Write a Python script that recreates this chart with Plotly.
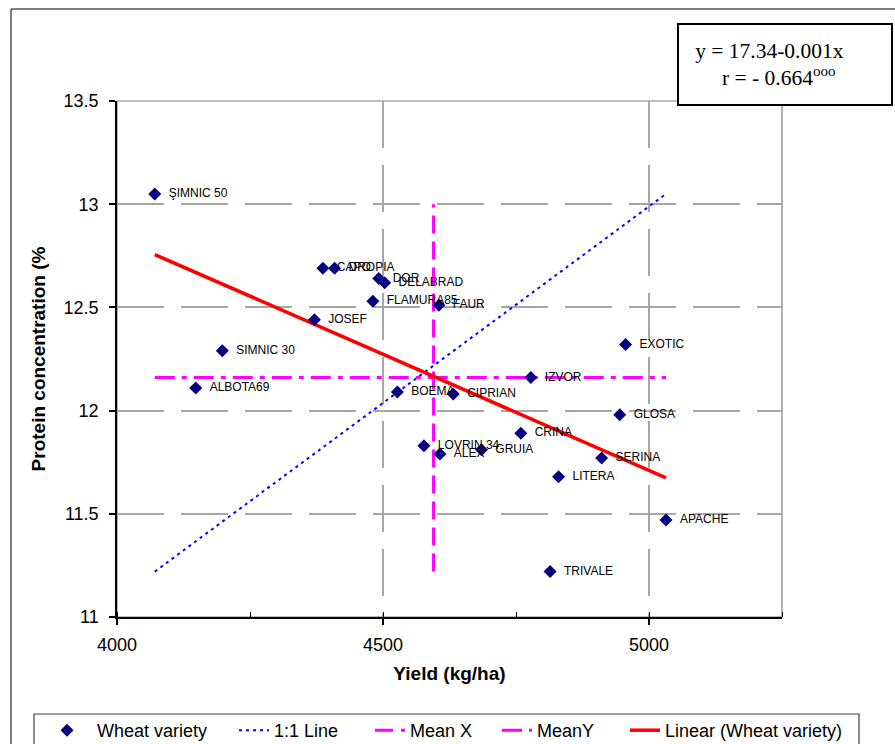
import plotly.graph_objects as go

# Wheat varieties: grain yield vs. protein concentration
varieties = ["ŞIMNIC 50", "CAPO", "DROPIA", "DOR", "DELABRAD", "FLAMURA85", "FAUR",
             "JOSEF", "SIMNIC 30", "ALBOTA69", "BOEMA", "CIPRIAN", "IZVOR", "LOVRIN 34",
             "ALEX", "GRUIA", "CRINA", "SERINA", "LITERA", "GLOSA", "EXOTIC", "APACHE",
             "TRIVALE"]
yield_kg_ha = [4071, 4387, 4409, 4492, 4503, 4481, 4605, 4371, 4198, 4148, 4527, 4632,
               4778, 4577, 4607, 4685, 4759, 4911, 4830, 4945, 4956, 5032, 4814]
protein_pct = [13.05, 12.69, 12.69, 12.64, 12.62, 12.53, 12.51, 12.44, 12.29, 12.11,
               12.09, 12.08, 12.16, 11.83, 11.79, 11.81, 11.89, 11.77, 11.68, 11.98,
               12.32, 11.47, 11.22]

# reference lines
mean_yield = 4595
mean_protein = 12.16
mean_x_span = [11.22, 13.0]
trend_intercept = 17.34
trend_slope = -0.001126
r_value = -0.664

x_ticks = [4000, 4500, 5000]
y_ticks = [11, 11.5, 12, 12.5, 13, 13.5]
y_tick_text = ["11", "11.5", "12", "12.5", "13", "13.5"]

# canvas and plot-area geometry (pixels)
W, H = 895, 744
L, R, T, B = 117, 113, 101, 127


def px_x(px):
    return (px - L) / (W - L - R)


def px_y(py):
    return (H - B - py) / (H - T - B)


FONT = "Liberation Sans, Arial, sans-serif"
SERIF = "Liberation Serif, Times New Roman, serif"

x_lo, x_hi = min(yield_kg_ha), max(yield_kg_ha)
y_lo, y_hi = min(protein_pct), max(protein_pct)

fig = go.Figure()

fig.add_trace(go.Scatter(
    x=[x_lo, x_hi], y=[y_lo, y_hi], mode="lines", name="1:1 Line", legend="legend2",
    line=dict(color="#0000FF", width=2, dash="3px,4px"),
))
fig.add_trace(go.Scatter(
    x=[mean_yield, mean_yield], y=mean_x_span, mode="lines", name="Mean X",
    legend="legend3", line=dict(color="#FF00FF", width=3, dash="18px,8px"),
))
fig.add_trace(go.Scatter(
    x=[x_lo, x_hi], y=[mean_protein, mean_protein], mode="lines", name="MeanY",
    legend="legend4", line=dict(color="#FF00FF", width=3, dash="20px,7px,5px,7px"),
))
fig.add_trace(go.Scatter(
    x=[x_lo, x_hi],
    y=[trend_intercept + trend_slope * x_lo, trend_intercept + trend_slope * x_hi],
    mode="lines", name="Linear (Wheat variety)", legend="legend5",
    line=dict(color="#FF0000", width=3.5),
))
fig.add_trace(go.Scatter(
    x=yield_kg_ha, y=protein_pct, text=varieties, mode="markers+text",
    name="Wheat variety", legend="legend",
    textposition="middle right", texttemplate="\u00a0\u00a0%{text}",
    textfont=dict(family=FONT, size=12, color="#000000"),
    marker=dict(symbol="diamond", size=10, color="#000080"),
))

eq_text = (
    "\u00a0" * 3 + f"y = {trend_intercept:.2f}-{abs(trend_slope):.3f}x<br>"
    + "\u00a0" * 8 + f"r = - {abs(r_value):.3f}<sup>ooo</sup>"
)


def legend_at(text_px, itemwidth):
    # one legend entry whose label starts at the given pixel column
    gap = itemwidth + 10
    return dict(
        orientation="h", x=px_x(text_px - gap), y=px_y(712),
        xanchor="left", yanchor="top", borderwidth=0, bgcolor="rgba(0,0,0,0)",
        font=dict(family=FONT, size=18, color="#000000"), itemwidth=itemwidth,
    )


fig.update_layout(
    width=W, height=H,
    margin=dict(l=L, r=R, t=T, b=B, autoexpand=False),
    paper_bgcolor="white", plot_bgcolor="white",
    font=dict(family=FONT, color="#000000"),
    showlegend=True,
    legend=legend_at(97, 50),
    legend2=legend_at(274, 30),
    legend3=legend_at(410, 30),
    legend4=legend_at(537, 30),
    legend5=legend_at(665, 30),
    xaxis=dict(
        range=[4000, 5250], tickvals=x_ticks, ticks="outside", ticklen=6,
        tickwidth=1.5, tickcolor="#000000", showline=True, linecolor="#000000",
        linewidth=1.5, showgrid=True, gridcolor="#A6A6A6", gridwidth=1.5,
        griddash="47px,17px", zeroline=False, ticklabelstandoff=5,
        tickfont=dict(family=FONT, size=18, color="#000000"),
        minor=dict(ticks="inside", tick0=4000, dtick=250, ticklen=5,
                   tickcolor="#000000", tickwidth=1, showgrid=False),
        title=dict(text="<b>Yield (kg/ha)</b>", standoff=12,
                   font=dict(family=FONT, size=19, color="#000000")),
        automargin=False,
    ),
    yaxis=dict(
        range=[11, 13.5], tickvals=y_ticks, ticktext=y_tick_text, ticks="outside",
        ticklen=6, tickwidth=1.5, tickcolor="#000000", showline=True,
        linecolor="#000000", linewidth=1.5, showgrid=True, gridcolor="#A6A6A6",
        gridwidth=1.5, griddash="47px,17px", zeroline=False, ticklabelstandoff=7,
        tickfont=dict(family=FONT, size=18, color="#000000"),
        title=dict(text="<b>Protein concentration (%</b>", standoff=13,
                   font=dict(family=FONT, size=19, color="#000000")),
        automargin=False,
    ),
    shapes=[
        # outer chart frame
        dict(type="rect", xref="paper", yref="paper",
             x0=px_x(11), x1=px_x(1200), y0=px_y(1000), y1=px_y(9),
             line=dict(color="#000000", width=1), layer="below"),
        # plot-area border (top and right)
        dict(type="rect", xref="paper", yref="paper", x0=0, x1=1, y0=0, y1=1,
             line=dict(color="#808080", width=1.2), layer="below"),
        # legend frame
        dict(type="rect", xref="paper", yref="paper",
             x0=px_x(34), x1=px_x(859), y0=px_y(760), y1=px_y(714),
             line=dict(color="#404040", width=1.2), fillcolor="white", layer="below"),
    ],
    annotations=[
        dict(text=eq_text, xref="paper", yref="paper", x=px_x(677), y=px_y(24),
             xanchor="left", yanchor="top", showarrow=False, align="left",
             valign="middle", width=212, height=79, borderpad=0, yshift=1,
             bordercolor="#000000", borderwidth=2, bgcolor="white",
             font=dict(family=SERIF, size=21.5, color="#000000")),
    ],
)

fig.write_html("out.html")
